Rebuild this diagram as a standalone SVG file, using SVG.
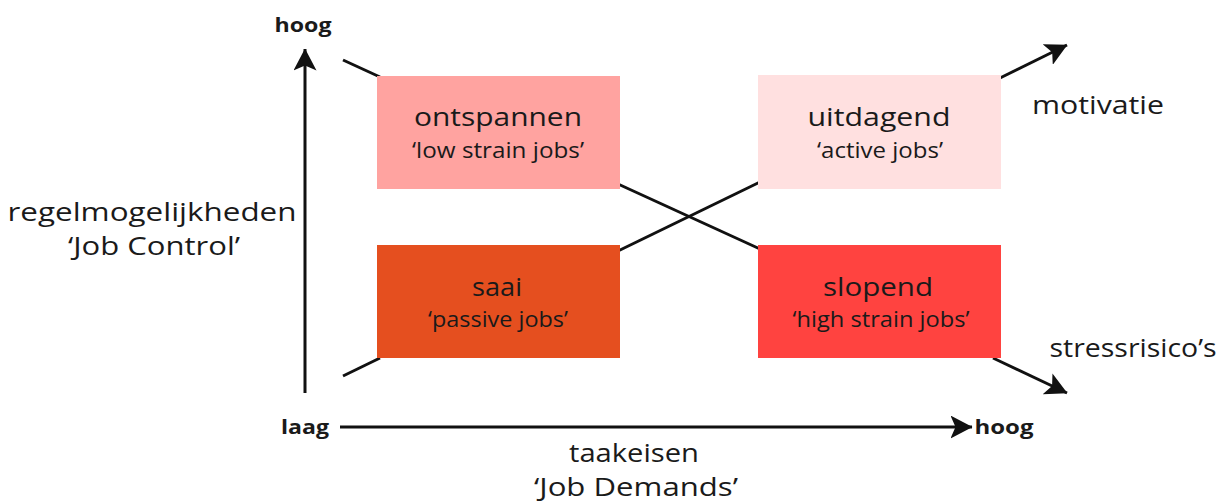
<svg xmlns="http://www.w3.org/2000/svg" width="1228" height="504" viewBox="0 0 1228 504">
<style>
text{font-family:"Open Sans","Noto Sans",sans-serif;fill:#1a1a1a;text-anchor:middle}
.t{font-size:25.5px}
.s{font-size:21px}
.b{font-size:19px;font-weight:bold}
.l{font-size:25px}
.ln{stroke:#111;stroke-width:3;fill:none}
</style>
<defs>
<marker id="ah" viewBox="0 0 22 23" refX="21.5" refY="11.5" markerWidth="22" markerHeight="23" markerUnits="userSpaceOnUse" orient="auto">
<path d="M0,0 L22,11.5 L0,23 L5,11.5 Z" fill="#111"/>
</marker>
</defs>
<rect width="1228" height="504" fill="#fff"/>
<g id="connectors">
<line class="ln" x1="305" y1="393" x2="305" y2="49" marker-end="url(#ah)"/>
<line class="ln" x1="340" y1="427" x2="972" y2="427" marker-end="url(#ah)"/>
<line class="ln" x1="343" y1="60" x2="380" y2="77"/>
<line class="ln" x1="618" y1="184" x2="760" y2="249"/>
<line class="ln" x1="343" y1="376" x2="380" y2="358"/>
<line class="ln" x1="618" y1="251" x2="760" y2="182"/>
<line class="ln" x1="1000" y1="78" x2="1067" y2="45" marker-end="url(#ah)"/>
<line class="ln" x1="993" y1="358" x2="1067" y2="393" marker-end="url(#ah)"/>
</g>
<g id="ontspannen">
<rect x="377" y="76" width="243" height="113" fill="#FFA3A0"/>
<text class="t" x="498" y="126" textLength="168" lengthAdjust="spacingAndGlyphs">ontspannen</text>
<text class="s" x="498" y="158" textLength="172" lengthAdjust="spacingAndGlyphs">‘low strain jobs’</text>
</g>
<g id="uitdagend">
<rect x="758" y="75" width="243" height="114" fill="#FFE0E0"/>
<text class="t" x="879" y="126" textLength="143" lengthAdjust="spacingAndGlyphs">uitdagend</text>
<text class="s" x="880" y="158" textLength="126" lengthAdjust="spacingAndGlyphs">‘active jobs’</text>
</g>
<g id="saai">
<rect x="377" y="245" width="243" height="113" fill="#E54F1F"/>
<text class="t" x="497" y="296" textLength="50" lengthAdjust="spacingAndGlyphs">saai</text>
<text class="s" x="498" y="327" textLength="140" lengthAdjust="spacingAndGlyphs">‘passive jobs’</text>
</g>
<g id="slopend">
<rect x="758" y="245" width="243" height="113" fill="#FF4340"/>
<text class="t" x="878" y="296" textLength="110" lengthAdjust="spacingAndGlyphs">slopend</text>
<text class="s" x="881" y="327" textLength="177" lengthAdjust="spacingAndGlyphs">‘high strain jobs’</text>
</g>
<g id="labels">
<text class="b" x="303" y="32" textLength="57" lengthAdjust="spacingAndGlyphs">hoog</text>
<text class="b" x="305" y="434" textLength="48" lengthAdjust="spacingAndGlyphs">laag</text>
<text class="b" x="1004" y="434" textLength="59" lengthAdjust="spacingAndGlyphs">hoog</text>
<text class="l" x="152" y="221" textLength="289" lengthAdjust="spacingAndGlyphs">regelmogelijkheden</text>
<text class="l" x="154" y="255" textLength="172" lengthAdjust="spacingAndGlyphs">‘Job Control’</text>
<text class="l" x="634" y="462" textLength="130" lengthAdjust="spacingAndGlyphs">taakeisen</text>
<text class="l" x="636" y="496" textLength="204" lengthAdjust="spacingAndGlyphs">‘Job Demands’</text>
<text class="l" x="1098" y="114" textLength="132" lengthAdjust="spacingAndGlyphs">motivatie</text>
<text class="l" x="1133" y="357" textLength="167" lengthAdjust="spacingAndGlyphs">stressrisico’s</text>
</g>
</svg>
